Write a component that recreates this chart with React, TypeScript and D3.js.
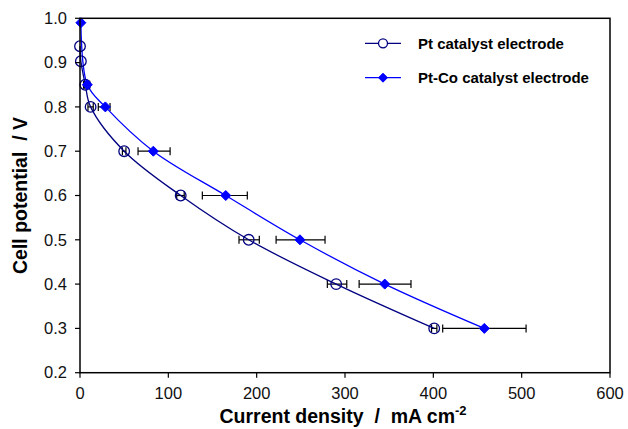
import React from "react";
import * as d3 from "d3";

const ptX = [0, 1, 6, 12, 50, 114, 191, 290, 401];
const ptY = [0.937, 0.903, 0.85, 0.8, 0.7, 0.6, 0.5, 0.4, 0.3];
const ptLo = [0, 0, 4, 9, 48, 109.5, 180, 280, 398];
const ptHi = [0, 0, 8, 15, 52, 118, 203, 302, 404];

const coX = [1, 8.3, 28.7, 83, 165, 249, 345, 457.7];
const coY = [0.99, 0.85, 0.8, 0.7, 0.6, 0.5, 0.4, 0.3];
const coLo = [1, 5, 20.7, 65.7, 138.5, 222, 316, 410.6];
const coHi = [1, 11, 34, 102, 189.4, 277.4, 374.7, 505];

const xTicks = [0, 100, 200, 300, 400, 500, 600];
const yTicks = [0.2, 0.3, 0.4, 0.5, 0.6, 0.7, 0.8, 0.9, 1.0];

const seriesNames = ["Pt catalyst electrode", "Pt-Co catalyst electrode"];

const W = 628, H = 429;
const L = 80, R = 610, T = 18.3, B = 372.7;
const PT_COLOR = "#000080";
const CO_COLOR = "#0000FF";
const FONT = "Liberation Sans, Arial, sans-serif";

export default function App() {
  const x = d3.scaleLinear().domain([0, 600]).range([L, R]);
  const y = d3.scaleLinear().domain([0.2, 1.0]).range([B, T]);
  const line = d3
    .line<[number, number]>()
    .x((d) => x(d[0]))
    .y((d) => y(d[1]))
    .curve(d3.curveCatmullRom.alpha(0.5));
  const ptPts: [number, number][] = ptX.map((v, i) => [v, ptY[i]]);
  const coPts: [number, number][] = coX.map((v, i) => [v, coY[i]]);
  const diamond = (cx: number, cy: number, r: number) =>
    `M${cx},${cy - r}L${cx + r},${cy}L${cx},${cy + r}L${cx - r},${cy}Z`;

  const errBars = (lo: number[], hi: number[], ys: number[], key: string) =>
    lo.map((l, i) => {
      const h = hi[i];
      if (h - l < 0.5) return null;
      const yy = y(ys[i]);
      return (
        <g key={key + i} stroke="#000" strokeWidth={1.2}>
          <line x1={x(l)} x2={x(h)} y1={yy} y2={yy} />
          <line x1={x(l)} x2={x(l)} y1={yy - 4} y2={yy + 4} />
          <line x1={x(h)} x2={x(h)} y1={yy - 4} y2={yy + 4} />
        </g>
      );
    });

  return (
    <svg
      width={W}
      height={H}
      style={{ position: "absolute", left: 0, top: 0, background: "#fff" }}
      fontFamily={FONT}
    >
      <rect x={0} y={0} width={W} height={H} fill="#fff" />
      {errBars(ptLo, ptHi, ptY, "p")}
      {errBars(coLo, coHi, coY, "c")}
      <path d={line(ptPts) || ""} fill="none" stroke={PT_COLOR} strokeWidth={1.3} />
      <path d={line(coPts) || ""} fill="none" stroke={CO_COLOR} strokeWidth={1.3} />
      {ptPts.map((d, i) => (
        <circle key={"pc" + i} cx={x(d[0])} cy={y(d[1])} r={5.3} fill="none" stroke={PT_COLOR} strokeWidth={1.3} />
      ))}
      {coPts.map((d, i) => (
        <path key={"cd" + i} d={diamond(x(d[0]), y(d[1]), 5)} fill={CO_COLOR} stroke={CO_COLOR} />
      ))}
      <rect x={L} y={T} width={R - L} height={B - T} fill="none" stroke="#000" strokeWidth={1.5} />
      {xTicks.map((t) => (
        <g key={"xt" + t}>
          <line x1={x(t)} x2={x(t)} y1={B} y2={B + 5} stroke="#000" strokeWidth={1.2} />
          <text x={x(t)} y={B + 26} textAnchor="middle" fontSize={16.5} fill="#111">
            {t}
          </text>
        </g>
      ))}
      {yTicks.map((t) => (
        <g key={"yt" + t}>
          <line x1={L - 5} x2={L} y1={y(t)} y2={y(t)} stroke="#000" strokeWidth={1.2} />
          <text x={L - 13} y={y(t)} dy="0.35em" textAnchor="end" fontSize={16.5} fill="#111">
            {t.toFixed(1)}
          </text>
        </g>
      ))}
      <text x={343} y={423} textAnchor="middle" fontSize={19.5} fontWeight="bold" style={{ whiteSpace: "pre" }}>
        {"Current density  /  mA cm"}
        <tspan dy={-8} fontSize={13}>-2</tspan>
      </text>
      <text
        transform={`translate(27,${(T + B) / 2}) rotate(-90)`}
        textAnchor="middle"
        fontSize={19.5}
        fontWeight="bold"
        style={{ whiteSpace: "pre" }}
      >
        {"Cell potential  / V"}
      </text>
      <g>
        <line x1={365} x2={401} y1={43.3} y2={43.3} stroke={PT_COLOR} strokeWidth={1.3} />
        <circle cx={383} cy={43.3} r={4.5} fill="#fff" stroke={PT_COLOR} strokeWidth={1.3} />
        <text x={418} y={43.3} dy="0.35em" fontSize={15} fontWeight="bold">
          {seriesNames[0]}
        </text>
        <line x1={365} x2={401} y1={77.7} y2={77.7} stroke={CO_COLOR} strokeWidth={1.3} />
        <path d={diamond(383, 77.7, 4.5)} fill={CO_COLOR} stroke={CO_COLOR} />
        <text x={418} y={77.7} dy="0.35em" fontSize={15} fontWeight="bold">
          {seriesNames[1]}
        </text>
      </g>
    </svg>
  );
}
